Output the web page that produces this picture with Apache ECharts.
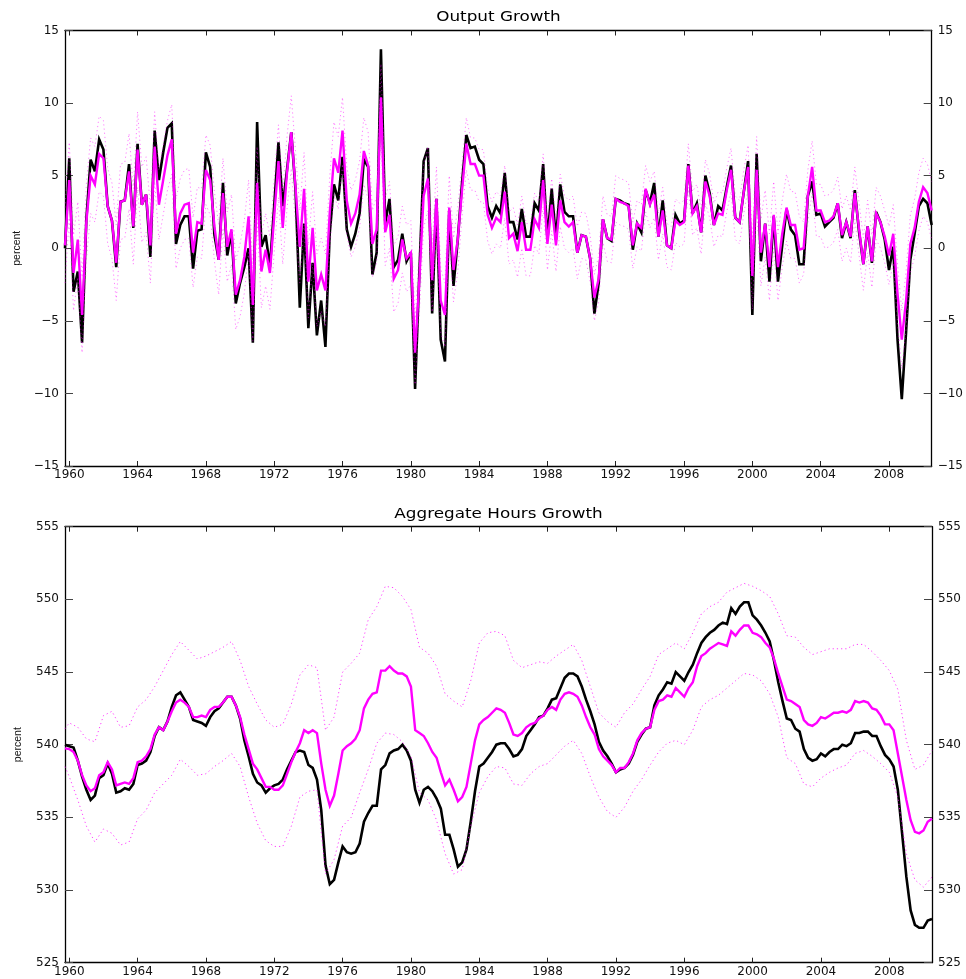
<!DOCTYPE html>
<html>
<head>
<meta charset="utf-8">
<title>Output and Aggregate Hours Growth</title>
<script src="https://cdn.jsdelivr.net/npm/echarts@6/dist/echarts.min.js"></script>
<style>
  html, body { margin: 0; padding: 0; background: #fff; }
  #chart { width: 966px; height: 979px; }
</style>
</head>
<body>
<div id="chart"></div>
<script>
// Quarterly observations, 1959Q4 .. 2010Q3 (204 quarters)
const outputActual = [
  0.0, 6.2, -3.0, -1.6, -6.5, 2.0, 6.1, 5.3, 7.5, 6.8,
  2.9, 1.9, -1.3, 3.2, 3.3, 5.8, 1.4, 7.2, 3.0, 3.7,
  -0.6, 8.1, 4.7, 6.6, 8.3, 8.6, 0.3, 1.6, 2.2, 2.2,
  -1.4, 1.2, 1.3, 6.6, 5.6, 0.9, -0.8, 4.5, -0.5, 1.1,
  -3.8, -2.4, -1.3, 0.0, -6.5, 8.7, 0.1, 0.9, -1.3, 2.9,
  7.3, 2.9, 5.4, 8.0, 4.0, -4.1, 1.7, -5.5, -1.0, -6.0,
  -3.6, -6.8, 1.0, 4.4, 3.3, 6.3, 1.3, 0.1, 1.0, 2.4,
  6.1, 5.6, -1.8, -0.3, 13.7, 1.7, 3.4, -1.3, -0.8, 1.0,
  -0.9, -0.3, -9.7, -1.7, 6.0, 6.9, -4.5, 3.4, -6.3, -7.8,
  2.6, -2.6, 0.6, 4.5, 7.8, 6.9, 7.0, 6.1, 5.8, 2.9,
  2.1, 2.9, 2.4, 5.2, 1.8, 1.8, 0.6, 2.7, 0.8, 0.8,
  3.1, 2.6, 5.8, 0.6, 4.1, 0.6, 4.4, 2.5, 2.2, 2.2,
  -0.3, 0.9, 0.8, -0.7, -4.5, -2.4, 2.0, 0.7, 0.5, 3.4,
  3.3, 3.1, 3.0, -0.1, 1.7, 1.1, 4.0, 3.1, 4.5, 0.8,
  3.3, 0.2, 0.0, 2.3, 1.7, 1.9, 5.8, 2.4, 3.1, 1.1,
  5.0, 3.8, 1.6, 2.9, 2.6, 4.2, 5.7, 2.1, 1.8, 3.9,
  6.0, -4.6, 6.5, -0.9, 1.7, -2.3, 2.2, -2.3, 0.2, 2.7,
  1.3, 0.9, -1.1, -1.1, 3.6, 4.6, 2.3, 2.4, 1.5, 1.8,
  2.1, 3.1, 0.7, 1.8, 0.7, 4.0, 1.1, -1.1, 1.5, -1.0,
  2.5, 1.8, 0.6, -1.5, 0.1, -6.3, -10.4, -5.8, -0.8, 1.0,
  2.9, 3.4, 3.1, 1.6
];

const outputEstimate = [
  0.2, 4.7, -1.7, 0.6, -4.6, 1.8, 5.0, 4.4, 6.5, 6.2,
  2.9, 1.9, -1.0, 3.2, 3.3, 5.3, 1.5, 6.8, 3.0, 3.7,
  0.2, 7.0, 3.0, 4.7, 6.4, 7.5, 1.0, 2.4, 3.0, 3.1,
  -0.3, 1.8, 1.7, 5.4, 4.7, 1.5, -0.8, 3.8, 0.1, 1.3,
  -3.2, -2.2, -0.6, 2.2, -3.9, 4.5, -1.6, -0.1, -1.7, 2.2,
  6.0, 1.4, 5.2, 8.0, 4.2, 0.1, 4.1, -2.3, 1.4, -2.9,
  -1.8, -2.9, 2.4, 6.2, 5.2, 8.1, 3.3, 1.7, 2.4, 3.7,
  6.7, 5.7, 0.3, 1.3, 10.4, 1.1, 2.3, -2.1, -1.5, 0.6,
  -0.7, -0.3, -7.2, -2.2, 3.6, 4.8, -2.2, 3.4, -3.6, -4.6,
  2.8, -1.5, 0.6, 4.0, 7.2, 5.8, 5.8, 5.0, 5.0, 2.3,
  1.4, 2.1, 1.8, 3.9, 0.7, 1.0, -0.2, 1.8, -0.1, -0.1,
  2.0, 1.4, 4.7, 0.3, 3.0, 0.2, 3.3, 1.8, 1.5, 1.8,
  -0.3, 0.9, 0.8, -0.7, -3.4, -2.1, 2.0, 0.7, 0.6, 3.4,
  3.2, 3.1, 2.9, 0.2, 1.7, 1.4, 4.1, 3.0, 3.7, 0.8,
  2.6, 0.2, 0.0, 1.9, 1.6, 1.8, 5.7, 2.4, 2.9, 1.1,
  4.6, 3.6, 1.6, 2.4, 2.3, 4.0, 5.4, 2.1, 1.8, 3.9,
  5.6, -1.9, 5.4, -0.3, 1.7, -1.3, 2.3, -1.3, 1.0, 2.8,
  1.6, 1.6, -0.1, 0.0, 3.6, 5.6, 2.6, 2.6, 1.8, 1.9,
  2.2, 3.1, 0.9, 1.8, 0.8, 3.8, 1.3, -1.1, 1.5, -0.9,
  2.4, 1.8, 0.8, -0.5, 1.0, -3.1, -6.3, -3.6, 0.3, 1.4,
  3.2, 4.2, 3.8, 2.6
];

// Half-width of the output confidence band, one value per year 1960..2010
const outputBandHalfWidth = [
  2.6, 2.6, 2.6, 2.6, 2.6,
  2.4, 2.4, 2.4, 2.4, 2.4,
  2.5, 2.5, 2.5, 2.5, 2.5, 2.5,
  2.3, 2.3, 2.3, 2.3,
  2.2, 2.2, 2.2,
  1.8, 1.8, 1.8, 1.8, 1.8, 1.8, 1.8,
  1.6, 1.6, 1.6, 1.6, 1.6,
  1.5, 1.5, 1.5, 1.5, 1.5,
  2.3, 2.3, 2.3,
  1.8, 1.8, 1.8, 1.8, 1.8,
  2.0, 2.0, 2.0
];

const hoursActual = [
  540.0, 539.9, 539.8, 538.9, 537.8, 536.9, 536.2, 536.5, 537.7, 537.9,
  538.7, 538.0, 536.7, 536.8, 537.0, 536.9, 537.3, 538.6, 538.7, 538.9,
  539.5, 540.6, 541.2, 541.0, 541.6, 542.6, 543.4, 543.6, 543.1, 542.6,
  541.7, 541.6, 541.5, 541.3, 541.9, 542.3, 542.5, 542.9, 543.3, 543.3,
  542.7, 541.8, 540.3, 539.2, 538.0, 537.4, 537.2, 536.7, 537.0, 537.2,
  537.3, 537.6, 538.3, 538.9, 539.5, 539.6, 539.5, 538.6, 538.4, 537.6,
  535.5, 531.7, 530.4, 530.7, 531.9, 533.0, 532.6, 532.5, 532.6, 533.2,
  534.7, 535.3, 535.8, 535.8, 538.3, 538.6, 539.4, 539.6, 539.7, 540.0,
  539.6, 538.9, 536.9, 536.0, 536.9, 537.1, 536.8, 536.3, 535.6, 533.8,
  533.8, 532.8, 531.6, 531.9, 532.8, 534.7, 536.8, 538.5, 538.7, 539.1,
  539.5, 540.0, 540.1, 540.1, 539.7, 539.2, 539.3, 539.7, 540.6, 541.0,
  541.4, 541.9, 542.0, 542.5, 543.1, 543.2, 543.9, 544.6, 544.9, 544.9,
  544.7, 544.0, 543.1, 542.3, 541.4, 540.2, 539.6, 539.2, 538.7, 538.1,
  538.3, 538.4, 538.7, 539.3, 540.2, 540.7, 541.1, 541.2, 542.7, 543.4,
  543.8, 544.3, 544.2, 545.0, 544.7, 544.4, 545.0, 545.5, 546.3, 547.0,
  547.4, 547.7, 547.9, 548.2, 548.4, 548.3, 549.4, 549.0, 549.5, 549.8,
  549.8, 548.9, 548.6, 548.2, 547.7, 547.1, 545.8, 544.3, 543.0, 541.8,
  541.7, 541.1, 540.9, 539.7, 539.1, 538.9, 539.0, 539.4, 539.2, 539.5,
  539.7, 539.7, 540.0, 539.9, 540.1, 540.8, 540.8, 540.9, 540.9, 540.6,
  540.6, 539.9, 539.3, 539.0, 538.5, 536.9, 533.9, 530.9, 528.6, 527.6,
  527.4, 527.4, 527.9, 528.0
];

const hoursEstimate = [
  539.75, 539.7, 539.5, 538.9, 537.9, 537.2, 536.8, 537.0, 537.9, 538.1,
  538.8, 538.3, 537.2, 537.3, 537.4, 537.3, 537.7, 538.8, 538.9, 539.2,
  539.7, 540.7, 541.2, 541.0, 541.6, 542.3, 542.9, 543.1, 542.9, 542.6,
  541.9, 541.9, 542.0, 541.9, 542.4, 542.6, 542.6, 542.9, 543.3, 543.3,
  542.7, 541.9, 540.7, 539.7, 538.7, 538.3, 537.7, 537.1, 537.1, 536.9,
  536.9, 537.2, 538.0, 538.8, 539.5, 540.1, 541.0, 540.8, 541.0, 540.8,
  538.7, 536.9, 535.8, 536.5, 538.0, 539.6, 539.9, 540.1, 540.4, 541.0,
  542.5, 543.1, 543.5, 543.6, 545.1, 545.1, 545.4, 545.1, 544.9, 544.9,
  544.7, 544.0, 541.0, 540.8, 540.6, 540.1, 539.5, 539.1, 538.1, 537.2,
  537.6, 536.9, 536.1, 536.4, 537.1, 538.7, 540.3, 541.4, 541.7, 541.9,
  542.2, 542.5, 542.4, 542.2, 541.5, 540.7, 540.6, 540.8, 541.2, 541.4,
  541.5, 541.8, 542.0, 542.4, 542.6, 542.4, 543.1, 543.5, 543.6, 543.5,
  543.3, 542.7, 541.9, 541.2, 540.7, 539.7, 539.2, 538.9, 538.6, 538.1,
  538.4, 538.4, 538.8, 539.4, 540.3, 540.8, 541.1, 541.2, 542.4, 543.0,
  543.1, 543.4, 543.3, 543.9, 543.6, 543.3, 543.9, 544.3, 545.4, 546.1,
  546.3, 546.6, 546.8, 547.0, 546.9, 546.8, 547.8, 547.5, 547.9, 548.2,
  548.2, 547.7, 547.6, 547.4, 547.0, 546.7, 545.9, 544.9, 544.0, 543.1,
  543.0, 542.8, 542.6, 541.7, 541.4, 541.3, 541.5, 541.9, 541.8, 542.0,
  542.2, 542.2, 542.3, 542.2, 542.4, 543.0, 542.9, 543.0, 542.9, 542.5,
  542.4, 542.0, 541.4, 541.4, 541.0, 539.4, 537.8, 536.2, 534.8, 534.0,
  533.9, 534.1, 534.7, 534.9
];

// Hours confidence band: first value at 1959.75, then half-yearly from 1960.0 to 2010.5
const hoursBandUpper = [
  541.1,
  541.5, 541.2, 540.4, 540.2, 542.0, 542.3, 541.2, 541.3, 542.6, 543.1,
  544.0, 545.1, 546.2, 547.1, 546.5, 545.9, 546.1, 546.4, 546.7, 547.1,
  545.8, 544.0, 542.8, 541.7, 541.2, 541.4, 542.8, 544.8, 545.5, 545.3,
  541.0, 541.9, 545.0, 545.6, 546.3, 548.6, 549.5, 550.9, 550.8, 550.2,
  549.3, 546.7, 546.3, 545.4, 543.5, 543.0, 542.6, 544.4, 547.0, 547.7,
  547.8, 547.5, 545.8, 545.3, 545.5, 545.7, 545.6, 546.1, 546.5, 546.9,
  545.8, 544.0, 542.2, 541.6, 541.2, 542.2, 542.8, 543.8, 544.7, 546.2,
  546.6, 547.0, 546.6, 547.7, 549.0, 549.5, 549.8, 550.5, 550.8, 551.1,
  550.9, 550.6, 550.2, 549.0, 547.5, 547.4, 546.7, 546.2, 546.4, 546.6,
  546.6, 546.6, 546.9, 546.9, 546.4, 545.8, 545.1, 543.8, 540.3, 538.3,
  538.6, 539.6
];

const hoursBandLower = [
  538.5,
  537.8, 536.2, 534.4, 533.3, 534.2, 533.9, 533.1, 533.3, 534.9, 535.5,
  536.7, 537.3, 537.9, 539.0, 538.5, 537.9, 538.0, 538.5, 538.9, 539.4,
  538.5, 536.4, 534.6, 533.4, 533.0, 533.0, 534.4, 536.4, 536.8, 536.9,
  531.1, 532.1, 534.4, 535.0, 536.7, 538.3, 540.1, 540.8, 540.7, 540.2,
  539.2, 536.7, 536.2, 534.8, 532.5, 531.1, 531.4, 534.4, 536.7, 537.8,
  538.5, 538.4, 537.3, 537.2, 538.0, 538.5, 538.7, 539.3, 539.9, 540.3,
  539.4, 537.8, 536.4, 535.4, 535.0, 535.7, 536.8, 537.6, 538.6, 539.5,
  540.1, 540.3, 540.0, 541.0, 542.6, 543.1, 543.4, 543.9, 544.4, 544.9,
  544.8, 544.4, 543.5, 541.9, 539.1, 538.7, 537.3, 537.1, 537.7, 538.1,
  538.4, 538.6, 539.4, 539.6, 539.2, 538.7, 538.1, 536.4, 532.5, 530.7,
  530.2, 530.9
];

// Axis ticks
const yearTicks = [1960, 1964, 1968, 1972, 1976, 1980, 1984, 1988, 1992, 1996, 2000, 2004, 2008];
const outputTicks = { min: -15, max: 15, step: 5 };
const hoursTicks = { min: 525, max: 555, step: 5 };
const panelTitles = ['Output Growth', 'Aggregate Hours Growth'];
const yName = 'percent';

// Time index for quarterly and band series
const quarterTimes = outputActual.map((_, k) => 1959.75 + k * 0.25);
const bandTimes = hoursBandUpper.map((_, k) => (k === 0 ? 1959.75 : 1960 + (k - 1) * 0.5));

const pairs = (times, vals) => times.map((t, k) => [t, vals[k]]);
const bandHW = (t) => outputBandHalfWidth[Math.min(outputBandHalfWidth.length - 1, Math.max(0, Math.floor(t) - 1960))];
const outputUpper = outputEstimate.map((v, k) => +(v + bandHW(quarterTimes[k])).toFixed(2));
const outputLower = outputEstimate.map((v, k) => +(v - bandHW(quarterTimes[k])).toFixed(2));

const FONT = 'DejaVu Sans';
const fmtY = (v) => (v < 0 ? '\u2212' + Math.abs(v) : String(v));

const grids = [
  { left: 65, top: 30.5, width: 867, height: 435.5 },
  { left: 65, top: 526.7, width: 867, height: 436 }
];

function xAxesFor(gi) {
  const common = {
    type: 'value', gridIndex: gi, min: 1959.75, max: 2010.5,
    splitLine: { show: false },
    axisLine: { show: true, onZero: false, lineStyle: { color: '#000', width: 1.3 } },
    axisTick: { show: true, inside: true, length: 5, customValues: yearTicks, lineStyle: { color: '#222', width: 1 } }
  };
  return [
    Object.assign({}, common, {
      position: 'bottom',
      axisLabel: { show: true, customValues: yearTicks, margin: 3, formatter: (v) => String(v),
                   fontFamily: FONT, fontSize: 12, color: '#111' }
    }),
    Object.assign({}, common, { position: 'top', axisLabel: { show: false } })
  ];
}

function yAxesFor(gi, ticks, withName) {
  const common = {
    type: 'value', gridIndex: gi, min: ticks.min, max: ticks.max, interval: ticks.step,
    splitLine: { show: false },
    axisLine: { show: true, onZero: false, lineStyle: { color: '#000', width: 1.3 } },
    axisTick: { show: true, inside: true, length: 8, lineStyle: { color: '#444', width: 1 } },
    axisLabel: { show: true, margin: 6, formatter: fmtY, fontFamily: FONT, fontSize: 12, color: '#111' }
  };
  const left = Object.assign({}, common, { position: 'left' });
  if (withName) {
    Object.assign(left, {
      name: yName, nameLocation: 'middle', nameRotate: 90, nameGap: 41,
      nameTextStyle: { fontFamily: 'Liberation Sans', fontSize: 10.5, color: '#111' }
    });
  }
  return [left, Object.assign({}, common, { position: 'right' })];
}

function lineSeries(xi, yi, data, color, width, z, dotOpacity) {
  return {
    type: 'line', xAxisIndex: xi, yAxisIndex: yi, data: data,
    showSymbol: false, symbol: 'none', silent: true, z: z,
    lineStyle: dotOpacity
      ? { color: color, width: 1, type: [1.2, 3], opacity: dotOpacity }
      : { color: color, width: width, join: 'miter', miterLimit: 4 },
    emphasis: { disabled: true }
  };
}

const option = {
  backgroundColor: '#fff',
  animation: false,
  grid: grids,
  xAxis: [...xAxesFor(0), ...xAxesFor(1)],
  yAxis: [...yAxesFor(0, outputTicks, true), ...yAxesFor(1, hoursTicks, true)],
  graphic: [
    { type: 'text', x: 498.5, y: 17.7, scaleX: 1.2, silent: true,
      style: { text: panelTitles[0], textAlign: 'center', textVerticalAlign: 'middle',
               font: '14px "DejaVu Sans"', fill: '#000' } },
    { type: 'text', x: 498.5, y: 514.3, scaleX: 1.2, silent: true,
      style: { text: panelTitles[1], textAlign: 'center', textVerticalAlign: 'middle',
               font: '14px "DejaVu Sans"', fill: '#000' } }
  ],
  series: [
    lineSeries(0, 0, pairs(quarterTimes, outputActual), '#000000', 2.6, 2),
    lineSeries(0, 0, pairs(quarterTimes, outputEstimate), '#ff00ff', 2.4, 3),
    lineSeries(0, 0, pairs(quarterTimes, outputUpper), '#ff00ff', 1, 4, 0.5),
    lineSeries(0, 0, pairs(quarterTimes, outputLower), '#ff00ff', 1, 4, 0.5),
    lineSeries(2, 2, pairs(quarterTimes, hoursActual), '#000000', 2.6, 2),
    lineSeries(2, 2, pairs(quarterTimes, hoursEstimate), '#ff00ff', 2.4, 3),
    lineSeries(2, 2, pairs(bandTimes, hoursBandUpper), '#ff00ff', 1, 4, 0.75),
    lineSeries(2, 2, pairs(bandTimes, hoursBandLower), '#ff00ff', 1, 4, 0.75)
  ]
};

const chart = echarts.init(document.getElementById('chart'), null, { renderer: 'canvas' });
chart.setOption(option);
</script>
</body>
</html>
